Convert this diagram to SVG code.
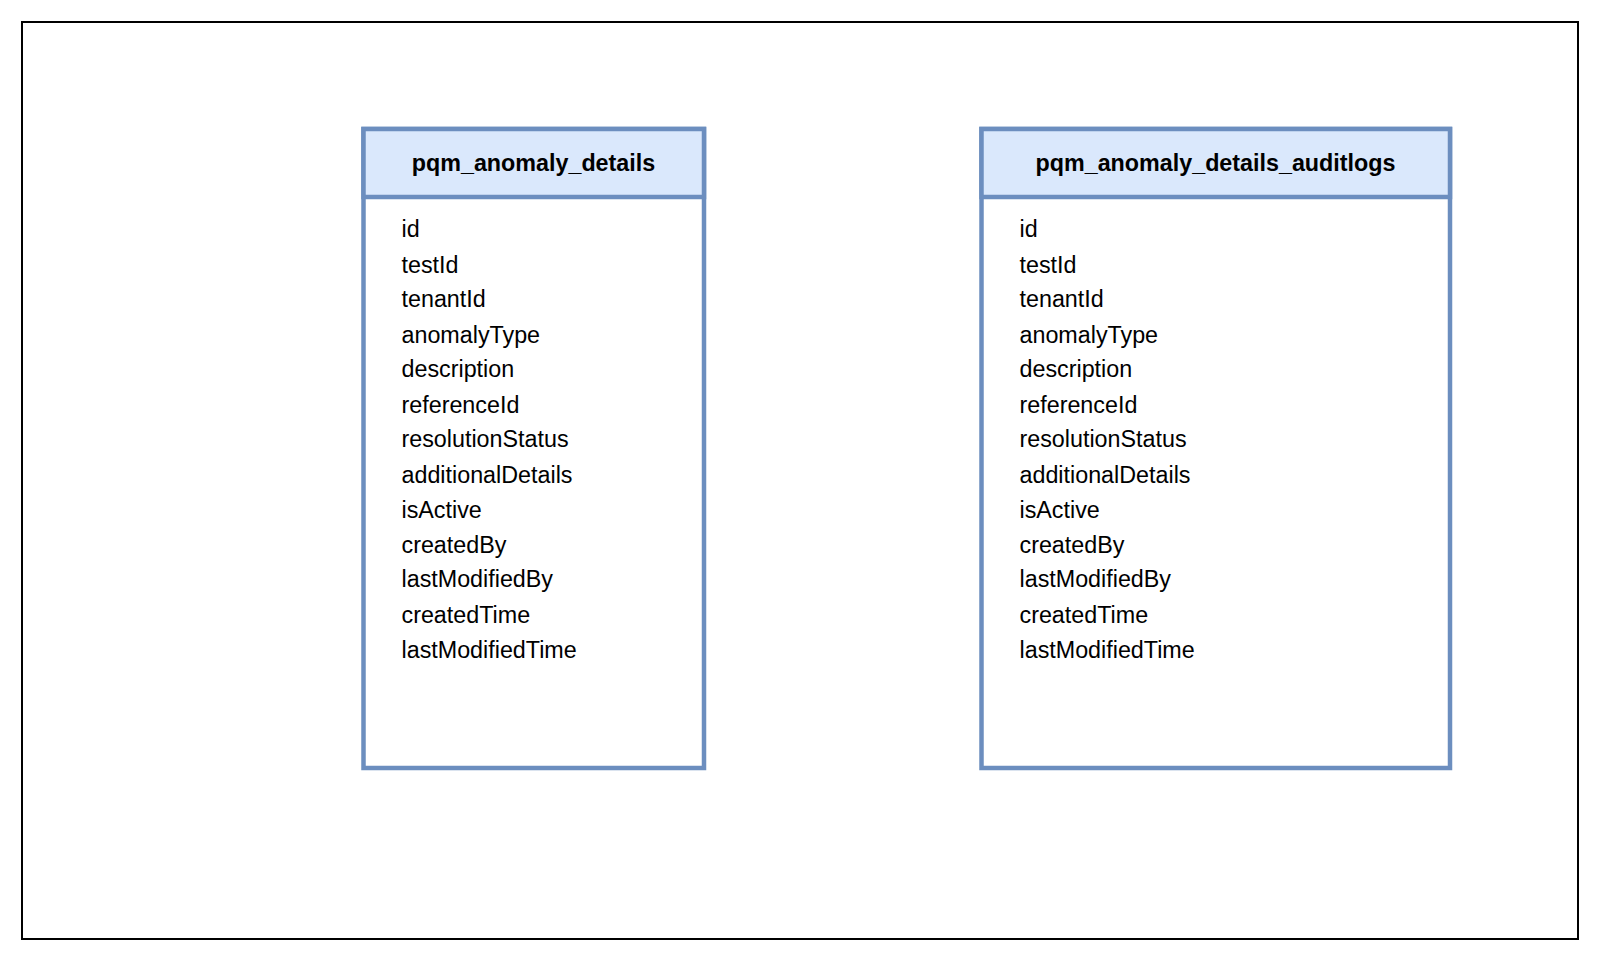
<svg xmlns="http://www.w3.org/2000/svg" width="1600" height="961" viewBox="0 0 1600 961">
<style>
.frame{fill:#ffffff;stroke:#000000;stroke-width:2}
.tbl{fill:#ffffff;stroke:#6c8ebf;stroke-width:4.5}
.hdr{fill:#dae8fc;stroke:#6c8ebf;stroke-width:4.5}
.title{font-family:"Liberation Sans",Arial,sans-serif;font-size:23.3px;font-weight:bold;fill:#000000;text-anchor:middle}
.field{font-family:"Liberation Sans",Arial,sans-serif;font-size:23.3px;fill:#000000}
</style>
<rect width="1600" height="961" fill="#ffffff"/>
<rect class="frame" x="22" y="22" width="1556" height="917"/>
<g id="pqm_anomaly_details">
<rect class="tbl" x="363.5" y="129" width="340.5" height="639"/>
<rect class="hdr" x="363.5" y="129" width="340.5" height="68"/>
<text class="title" x="533.5" y="171">pqm_anomaly_details</text>
<g class="field">
<text x="401.5" y="237">id</text>
<text x="401.5" y="272.5">testId</text>
<text x="401.5" y="306.7">tenantId</text>
<text x="401.5" y="342.5">anomalyType</text>
<text x="401.5" y="376.7">description</text>
<text x="401.5" y="412.5">referenceId</text>
<text x="401.5" y="446.7">resolutionStatus</text>
<text x="401.5" y="483">additionalDetails</text>
<text x="401.5" y="517.5">isActive</text>
<text x="401.5" y="553">createdBy</text>
<text x="401.5" y="587.3">lastModifiedBy</text>
<text x="401.5" y="623">createdTime</text>
<text x="401.5" y="658">lastModifiedTime</text>
</g>
</g>
<g id="pqm_anomaly_details_auditlogs">
<rect class="tbl" x="981.5" y="129" width="468.5" height="639"/>
<rect class="hdr" x="981.5" y="129" width="468.5" height="68"/>
<text class="title" x="1215.5" y="171">pqm_anomaly_details_auditlogs</text>
<g class="field">
<text x="1019.5" y="237">id</text>
<text x="1019.5" y="272.5">testId</text>
<text x="1019.5" y="306.7">tenantId</text>
<text x="1019.5" y="342.5">anomalyType</text>
<text x="1019.5" y="376.7">description</text>
<text x="1019.5" y="412.5">referenceId</text>
<text x="1019.5" y="446.7">resolutionStatus</text>
<text x="1019.5" y="483">additionalDetails</text>
<text x="1019.5" y="517.5">isActive</text>
<text x="1019.5" y="553">createdBy</text>
<text x="1019.5" y="587.3">lastModifiedBy</text>
<text x="1019.5" y="623">createdTime</text>
<text x="1019.5" y="658">lastModifiedTime</text>
</g>
</g>
<g id="connectors"></g>
</svg>
